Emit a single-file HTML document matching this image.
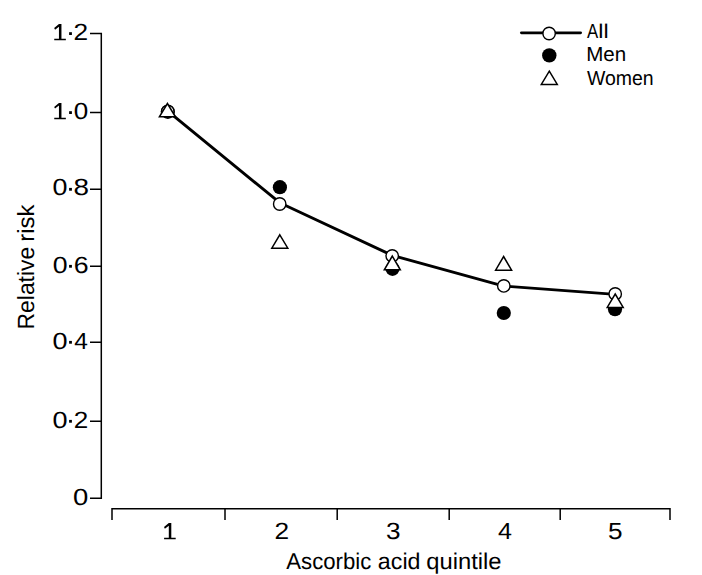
<!DOCTYPE html>
<html><head><meta charset="utf-8"><style>
html,body{margin:0;padding:0;background:#fff;width:702px;height:575px;overflow:hidden}
svg{display:block}
text{font-family:"Liberation Sans",sans-serif;fill:#000;text-rendering:geometricPrecision}
</style></head><body>
<svg width="702" height="575" viewBox="0 0 702 575">
<rect width="702" height="575" fill="#fff"/>
<g stroke="#000" stroke-width="1.5" fill="none">
<path d="M90 33.5H101.3V498.2H90M90 112.5H101.3M90 189.2H101.3M90 266.2H101.3M90 342.2H101.3M90 421.2H101.3"/>
<path d="M112 520V508.8H670V520M225 508.8V520M337.2 508.8V520M449.2 508.8V520M560.2 508.8V520"/>
</g>
<g font-size="23.4" fill="#000">
<path transform="translate(60.05 40.30)" d="M-1.1 -16.3H1.4V-1.5H5.8V0H-5.8V-1.5H-1.1V-13.6L-5.0 -10.6L-5.9 -12.3Z"/>
<rect x="69.1" y="32.2" width="2.8" height="2.8"/>
<text transform="translate(73.58 40.30) scale(1.124 1)">2</text>
<path transform="translate(60.05 119.20)" d="M-1.1 -16.3H1.4V-1.5H5.8V0H-5.8V-1.5H-1.1V-13.6L-5.0 -10.6L-5.9 -12.3Z"/>
<rect x="69.1" y="111.2" width="2.8" height="2.8"/>
<text transform="translate(73.86 119.20) scale(1.113 1)">0</text>
<text transform="translate(52.42 195.40) scale(1.149 1)">0</text>
<rect x="69.1" y="187.9" width="2.8" height="2.8"/>
<text transform="translate(73.49 195.40) scale(1.191 1)">8</text>
<text transform="translate(52.63 273.40) scale(1.140 1)">0</text>
<rect x="69.1" y="264.9" width="2.8" height="2.8"/>
<text transform="translate(73.66 273.40) scale(1.143 1)">6</text>
<text transform="translate(52.42 349.20) scale(1.157 1)">0</text>
<rect x="69.1" y="340.9" width="2.8" height="2.8"/>
<text transform="translate(74.31 349.20) scale(1.047 1)">4</text>
<text transform="translate(52.42 428.20) scale(1.157 1)">0</text>
<rect x="69.1" y="419.9" width="2.8" height="2.8"/>
<text transform="translate(73.70 428.20) scale(1.115 1)">2</text>
<text transform="translate(73.10 505.40) scale(1.175 1)">0</text>
<path transform="translate(169.90 539.30)" d="M-1.1 -16.3H1.4V-1.5H5.8V0H-5.8V-1.5H-1.1V-13.6L-5.0 -10.6L-5.9 -12.3Z"/>
<text transform="translate(274.48 539.30) scale(1.124 1)">2</text>
<text transform="translate(385.95 539.30) scale(1.118 1)">3</text>
<text transform="translate(498.00 539.30) scale(1.073 1)">4</text>
<text transform="translate(607.95 539.30) scale(1.118 1)">5</text>
</g>
<g font-size="22.8">
<text transform="translate(286.30 569.3) scale(0.973 1)">Ascorbic</text>
<text transform="translate(377.87 569.3) scale(1.019 1)">acid</text>
<text transform="translate(426.25 569.3) scale(1.042 1)">quintile</text>
</g>
<g font-size="23.4">
<text transform="translate(33.9 329.43) rotate(-90) scale(0.978 1)">Relative</text>
<text transform="translate(33.9 241.67) rotate(-90) scale(1.022 1)">risk</text>
</g>
<polyline points="167.8,111.2 279.7,202.7 392.2,255.4 503.8,286.1 615.2,294.4" fill="none" stroke="#000" stroke-width="2.9" stroke-linejoin="round"/>
<g fill="#000">
<circle cx="167.8" cy="111.8" r="7.1"/>
<circle cx="279.9" cy="187.2" r="7.1"/>
<circle cx="392.5" cy="268.8" r="7.1"/>
<circle cx="503.8" cy="313" r="7.1"/>
<circle cx="615" cy="309.2" r="7.1"/>
</g>
<g fill="#fff" stroke="#000" stroke-width="1.4">
<circle cx="167.8" cy="111.4" r="6.2"/>
<circle cx="279.7" cy="204" r="6.2"/>
<circle cx="392.2" cy="255.9" r="6.2"/>
<circle cx="503.8" cy="285.9" r="6.2"/>
<circle cx="615.2" cy="293.9" r="6.2"/>
</g>
<g fill="#fff" stroke="#000" stroke-width="1.5">
<path d="M167.40 103.50L175.40 116.75H159.41Z"/>
<path d="M279.80 234.80L287.80 248.15H271.81Z"/>
<path d="M392.30 256.10L400.30 269.85H384.31Z"/>
<path d="M503.60 256.50L511.60 270.15H495.61Z"/>
<path d="M615.20 294.00L623.20 307.45H607.21Z"/>
</g>
<path d="M521.4 32.8H580.6" stroke="#000" stroke-width="2.8" stroke-linecap="round"/>
<circle cx="549.1" cy="33.5" r="6.2" fill="#fff" stroke="#000" stroke-width="1.4"/>
<circle cx="549.3" cy="55.4" r="7.2" fill="#000"/>
<path d="M549.30 71.10L557.29 84.45H541.30Z" fill="#fff" stroke="#000" stroke-width="1.5"/>
<g font-size="20.3">
<text transform="translate(586.90 38.4) scale(0.828 1)">A</text>
<text transform="translate(586.26 61.1) scale(1.013 1)">Men</text>
<text transform="translate(586.91 85.1) scale(0.960 1)">Women</text>
</g>
<text transform="translate(598.37 38.4) scale(1.167 1)" font-size="19.9">ll</text>
</svg>
</body></html>
